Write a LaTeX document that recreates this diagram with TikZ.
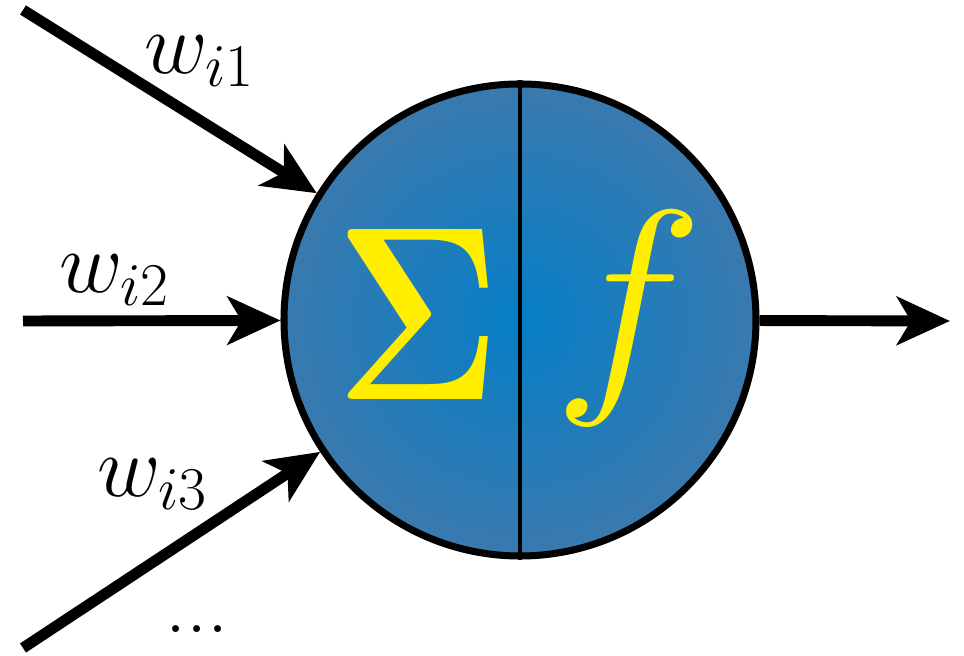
\documentclass[tikz,border=0pt]{standalone}
\usepackage{amsmath}
\usetikzlibrary{arrows.meta,positioning}
\definecolor{nblue}{RGB}{5,126,198}
\definecolor{nedge}{RGB}{58,122,174}
\definecolor{nyellow}{RGB}{255,238,0}

\begin{document}
\begin{tikzpicture}[x=1cm,y=1cm,
    arr/.style={line width=3.1pt,-{Stealth[length=5.3mm,width=4.8mm,inset=1.4mm]}},
    wlbl/.style={font=\fontsize{24}{28}\selectfont},
    sym/.style={text=nyellow,inner sep=0pt,font=\fontsize{20}{24}\selectfont,transform shape}]
  \useasboundingbox (0,0) rectangle (9.64,6.56);
  % the neuron
  \node[circle,draw,line width=2pt,minimum size=4.72cm,inner sep=0pt,
        inner color=nblue,outer color=nedge] (neuron) at (5.20,3.36){};
  \draw[line width=1.2pt] (neuron.north)--(neuron.south);
  \node[sym,xscale=2.8,yscale=3.4] (sum) at (4.18,3.42){$\boldsymbol{\Sigma}$};
  \node[sym,xscale=3.5,yscale=3.3] (act) at (6.29,3.38){$f$};
  % inputs and output
  \coordinate (in1) at (0.23,6.46);
  \coordinate (in2) at (0.23,3.35);
  \coordinate (in3) at (0.23,0.08);
  \coordinate (out) at (9.50,3.35);
  \draw[arr] (in1)--(neuron);
  \draw[arr] (in2)--(neuron);
  \draw[arr] (in3)--(neuron);
  \draw[arr] (neuron)--(out);
  \node[wlbl] (w1) at (2.00,5.95){$w_{i1}$};
  \node[wlbl] (w2) at (1.15,3.76){$w_{i2}$};
  \node[wlbl] (w3) at (1.53,1.72){$w_{i3}$};
  \node[wlbl] (dots) at (1.97,0.27){...};
\end{tikzpicture}
\end{document}
